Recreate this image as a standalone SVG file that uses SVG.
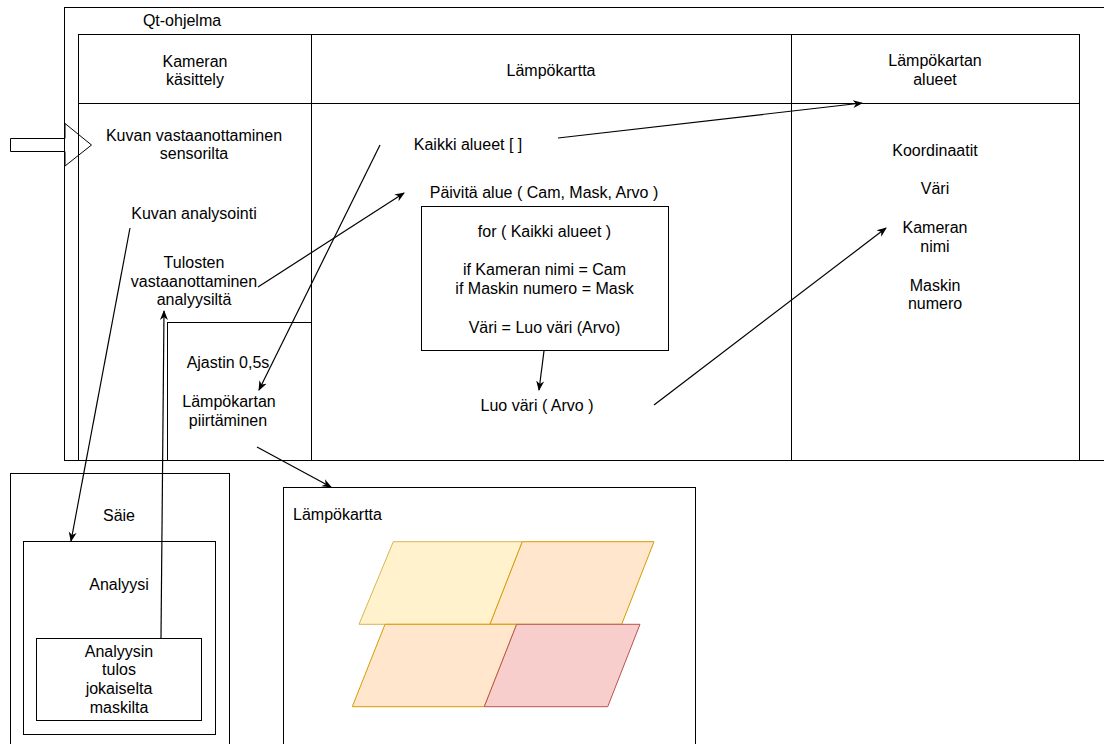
<svg xmlns="http://www.w3.org/2000/svg" width="1104" height="744" viewBox="0 0 1104 744">
  <style>
    .box { fill: none; stroke: #000; stroke-width: 1; }
    .t { font-family: "Liberation Sans", Arial, Helvetica, sans-serif; font-size: 16px; fill: #000; text-anchor: middle; }
    .tl { text-anchor: start; }
    .edge { fill: none; stroke: #000; stroke-width: 1.2; }
    .edge.arr { marker-end: url(#arrow); }
  </style>
  <defs>
    <marker id="arrow" viewBox="0 0 10 10" refX="9" refY="5" markerWidth="10" markerHeight="10" markerUnits="userSpaceOnUse" orient="auto">
      <path d="M0,1 L10,5 L0,9 L3,5 Z" fill="#000"/>
    </marker>
  </defs>
  <rect x="0" y="0" width="1104" height="744" fill="#fff"/>

  <g id="qt-ohjelma">
    <rect class="box" x="64.5" y="7.5" width="1060" height="453"/>
    <text class="t" x="182" y="26">Qt-ohjelma</text>
  </g>

  <g id="table">
    <rect class="box" x="78.5" y="34.5" width="1001" height="426"/>
    <line class="box" x1="78.5" y1="103.5" x2="1079.5" y2="103.5"/>
    <line class="box" x1="311.5" y1="34.5" x2="311.5" y2="460.5"/>
    <line class="box" x1="791.5" y1="34.5" x2="791.5" y2="460.5"/>
  </g>

  <g id="col-kameran">
    <text class="t" x="195" y="67">Kameran</text>
    <text class="t" x="195" y="85">käsittely</text>
    <text class="t" x="194" y="141">Kuvan vastaanottaminen</text>
    <text class="t" x="194" y="159">sensorilta</text>
    <text class="t" x="194" y="219">Kuvan analysointi</text>
    <text class="t" x="194" y="268">Tulosten</text>
    <text class="t" x="194" y="287">vastaanottaminen</text>
    <text class="t" x="194" y="305">analyysiltä</text>
  </g>

  <g id="ajastin">
    <rect class="box" x="167.5" y="322.5" width="144" height="138"/>
    <text class="t" x="228" y="368">Ajastin 0,5s</text>
    <text class="t" x="229" y="407">Lämpökartan</text>
    <text class="t" x="228" y="426">piirtäminen</text>
  </g>

  <g id="col-lampokartta">
    <text class="t" x="551" y="76">Lämpökartta</text>
    <text class="t" x="468" y="150">Kaikki alueet [ ]</text>
    <text class="t" x="544" y="198">Päivitä alue ( Cam, Mask, Arvo )</text>
    <text class="t" x="537" y="411">Luo väri ( Arvo )</text>
  </g>

  <g id="for-box">
    <rect class="box" x="421.5" y="206.5" width="247" height="144"/>
    <text class="t" x="544.5" y="237">for ( Kaikki alueet )</text>
    <text class="t" x="544.5" y="275">if Kameran nimi = Cam</text>
    <text class="t" x="544.5" y="294">if Maskin numero = Mask</text>
    <text class="t" x="544.5" y="333">Väri = Luo väri (Arvo)</text>
  </g>

  <g id="col-alueet">
    <text class="t" x="935" y="66">Lämpökartan</text>
    <text class="t" x="935" y="85">alueet</text>
    <text class="t" x="935" y="156">Koordinaatit</text>
    <text class="t" x="935" y="194">Väri</text>
    <text class="t" x="935" y="233">Kameran</text>
    <text class="t" x="935" y="252">nimi</text>
    <text class="t" x="935" y="291">Maskin</text>
    <text class="t" x="935" y="309">numero</text>
  </g>

  <g id="saie">
    <rect class="box" x="10.5" y="473.5" width="219" height="290"/>
    <text class="t" x="119" y="521">Säie</text>
  </g>

  <g id="analyysi">
    <rect class="box" x="23.5" y="541.5" width="192" height="193"/>
    <text class="t" x="119" y="590">Analyysi</text>
  </g>

  <g id="analyysin-tulos">
    <rect class="box" x="36.5" y="638.5" width="165" height="82"/>
    <text class="t" x="119" y="657">Analyysin</text>
    <text class="t" x="119" y="675">tulos</text>
    <text class="t" x="119" y="694">jokaiselta</text>
    <text class="t" x="119" y="713">maskilta</text>
  </g>

  <g id="lampokartta-view">
    <rect class="box" x="283.5" y="487.5" width="412" height="280"/>
    <text class="t tl" x="293" y="520">Lämpökartta</text>
    <polygon points="393.3,541.7 522.3,541.7 490,624.3 359,624.3" fill="#fff2cc" stroke="#d6b656" stroke-width="1"/>
    <polygon points="522.3,541.7 654,541.7 621.7,624.3 490,624.3" fill="#ffe6cc" stroke="#d79b00" stroke-width="1"/>
    <polygon points="385,624.3 516.7,624.3 484.3,706.7 352.3,706.7" fill="#ffe6cc" stroke="#d79b00" stroke-width="1"/>
    <polygon points="516.7,624.3 640,624.3 607.7,706.7 484.3,706.7" fill="#f8cecc" stroke="#b85450" stroke-width="1"/>
  </g>

  <g id="input-arrow">
    <polygon class="box" points="10.5,138.5 65,138.5 65,123.5 91.5,145 65,166 65,151.5 10.5,151.5"/>
  </g>

  <g id="connectors">
    <line class="edge arr" x1="558" y1="138" x2="862" y2="103"/>
    <line class="edge arr" x1="380" y1="145" x2="259" y2="390"/>
    <line class="edge arr" x1="258" y1="287" x2="404" y2="193"/>
    <line class="edge arr" x1="130" y1="228" x2="71" y2="541"/>
    <line class="edge arr" x1="161" y1="638" x2="164" y2="311"/>
    <line class="edge arr" x1="257" y1="447" x2="331" y2="487"/>
    <line class="edge arr" x1="544" y1="351" x2="539" y2="390"/>
    <line class="edge arr" x1="654" y1="405" x2="886" y2="228"/>
  </g>
</svg>
